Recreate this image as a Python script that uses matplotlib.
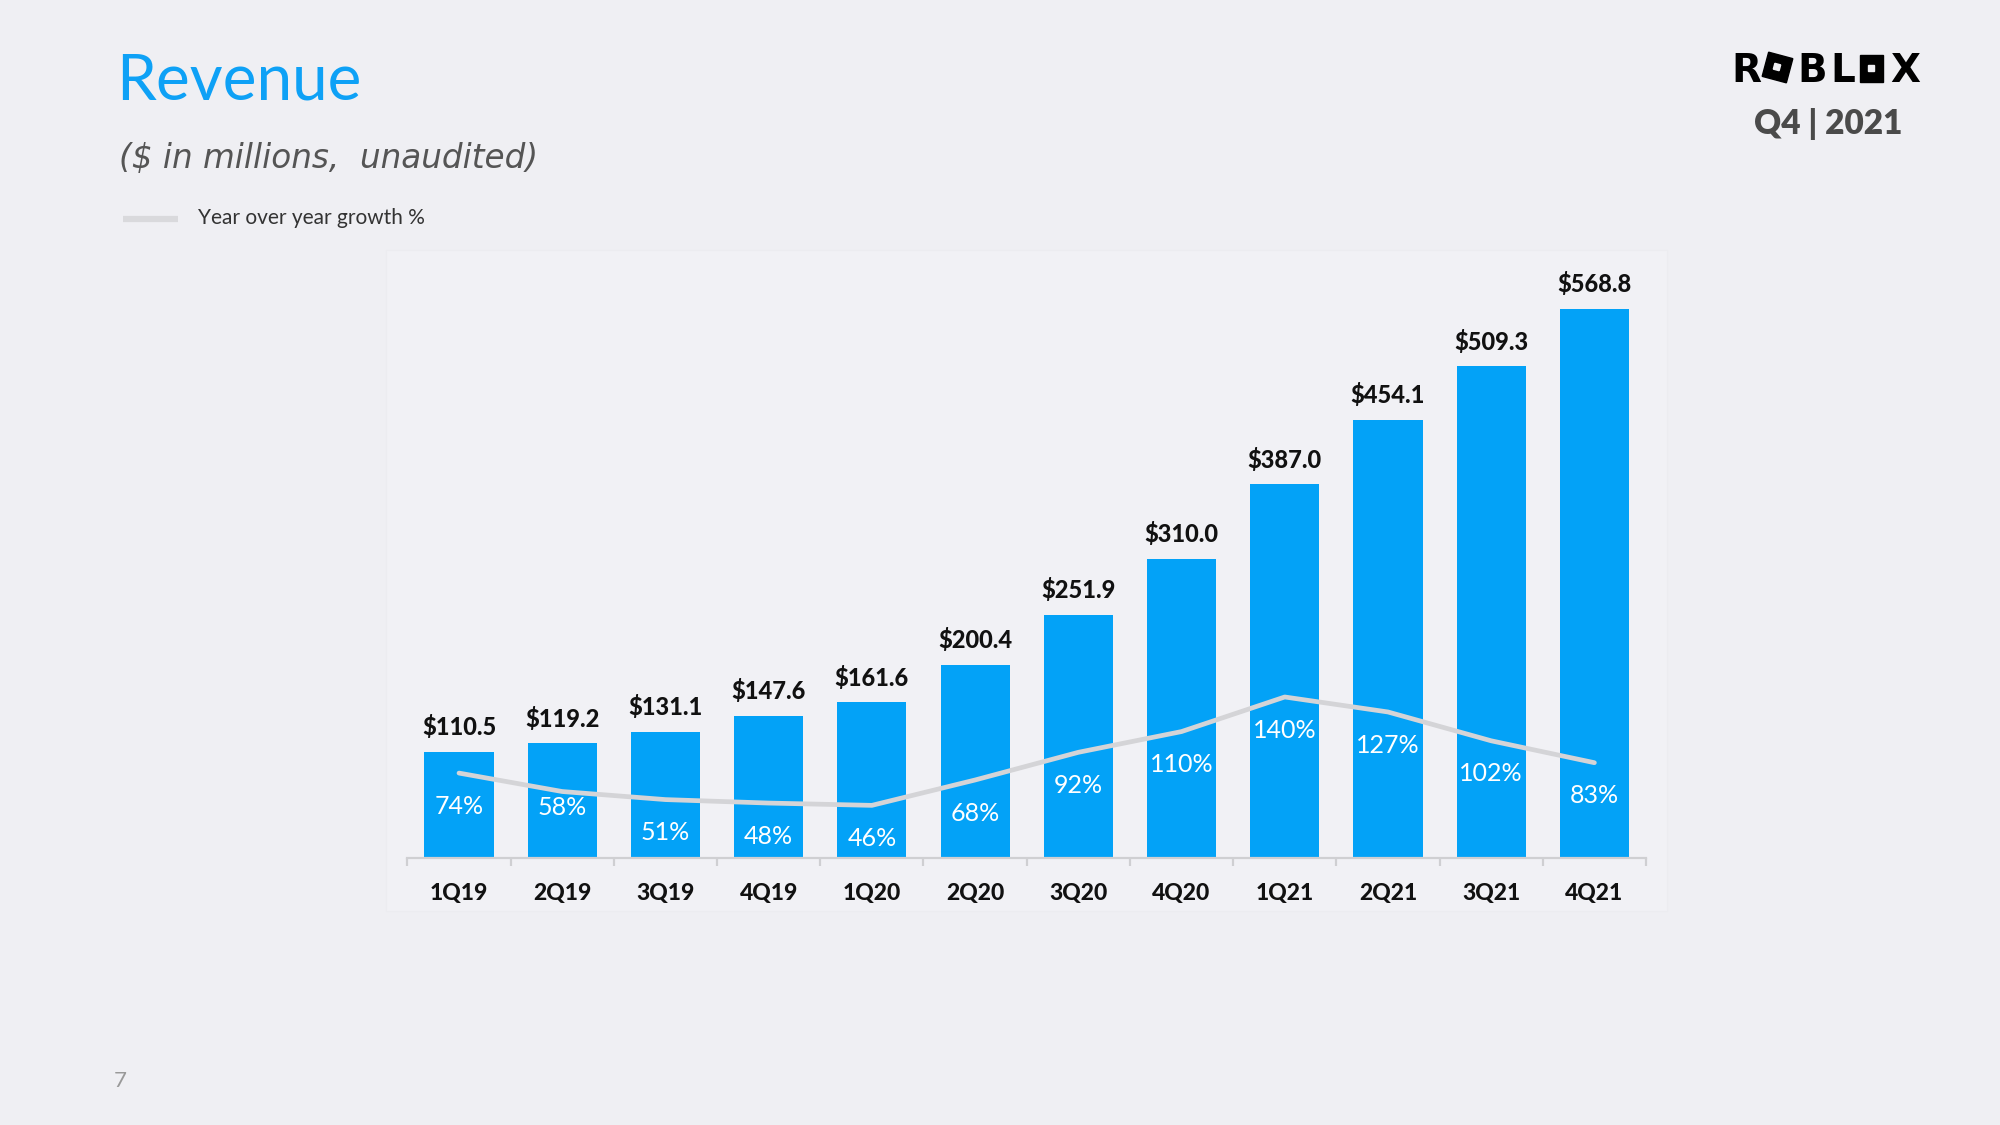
import matplotlib
matplotlib.use("Agg")
import matplotlib.pyplot as plt
from matplotlib.patches import Rectangle
import numpy as np

plt.rcParams['font.family'] = ['Lato', 'DejaVu Sans']

# quarterly revenue ($ in millions) and year over year growth (%)
quarters = ['1Q19', '2Q19', '3Q19', '4Q19', '1Q20', '2Q20',
            '3Q20', '4Q20', '1Q21', '2Q21', '3Q21', '4Q21']
revenue = [110.5, 119.2, 131.1, 147.6, 161.6, 200.4,
           251.9, 310.0, 387.0, 454.1, 509.3, 568.8]
growth = [74, 58, 51, 48, 46, 68, 92, 110, 140, 127, 102, 83]

BLUE = '#03a2f7'
BG = '#efeff3'
LINE_GRAY = '#d4d4d7'

fig = plt.figure(figsize=(20, 11.25), dpi=100, facecolor=BG)

# background layer in pixel coordinates (y goes down like the slide)
bg = fig.add_axes([0, 0, 1, 1], zorder=0)
bg.set_xlim(0, 2000)
bg.set_ylim(1125, 0)
bg.axis('off')

# faint panel behind the chart
bg.add_patch(Rectangle((386, 250), 1281, 661, facecolor='#f1f1f5', edgecolor='#ececf0', lw=0.8))

# slide title and subtitle
bg.text(116, 100, 'Revenue', fontsize=46, color='#0ea1f6', va='baseline', ha='left')
bg.text(119, 168, '($ in millions,  unaudited)', fontsize=23.5, style='italic',
        family='DejaVu Sans', color='#555555', va='baseline', ha='left')

# legend
bg.plot([123, 178], [219, 219], color='#d9d9dc', lw=4.5, solid_capstyle='butt')
bg.text(198, 224, 'Year over year growth %', fontsize=15, color='#333333',
        va='baseline', ha='left')

# logo: letters + the two square "O"s
for letter, xc in [('R', 1746), ('B', 1812), ('L', 1843), ('X', 1905)]:
    bg.text(xc, 82, letter, fontsize=28, fontweight='bold', family='DejaVu Sans',
            color='black', ha='center', va='baseline')
bg.add_patch(Rectangle((1765, 55), 25, 25, angle=15, rotation_point='center', color='black'))
bg.add_patch(Rectangle((1774, 64), 6, 6, angle=15, rotation_point='center', color=BG))
bg.add_patch(Rectangle((1860, 55), 23, 27, color='black'))
bg.add_patch(Rectangle((1868, 65), 6, 6, color=BG))
bg.text(1828, 134, 'Q4 | 2021', fontsize=24, fontweight='heavy', color='#4a4a4a',
        ha='center', va='baseline')

# page number
bg.text(120, 1087, '7', fontsize=16, color='#999999', ha='center', va='baseline')

# chart
ax = fig.add_axes([407.4 / 2000, 266.6 / 1125, 1238.6 / 2000, 579.8 / 1125], zorder=1)
ax.set_facecolor('none')
x = np.arange(len(quarters))
ax.bar(x, revenue, width=0.67, color=BLUE, zorder=2)
ax.set_xlim(-0.5, len(quarters) - 0.5)
ax.set_ylim(0, 600)

for s in ['top', 'right', 'left']:
    ax.spines[s].set_visible(False)
ax.spines['bottom'].set_color('#cfcfd2')
ax.spines['bottom'].set_linewidth(1.6)
ax.set_yticks([])
ax.set_xticks(x)
ax.set_xticklabels(quarters, fontsize=16.5, fontweight='black', color='#111111')
ax.tick_params(axis='x', which='major', length=0, pad=17.5)
ax.set_xticks(np.arange(-0.5, len(quarters)), minor=True)
ax.tick_params(axis='x', which='minor', length=6, width=1.6, color='#cfcfd2')

for i, v in enumerate(revenue):
    ax.annotate(f'${v:.1f}', xy=(i, v), xytext=(0, 12), textcoords='offset points',
                ha='center', va='baseline', fontsize=17, fontweight='black', color='#111111')

# growth line on its own scale, 0% sits on the baseline
ax2 = ax.twinx()
ax2.set_zorder(2)
ax2.set_ylim(0, 579.8 / 1.153)
ax2.axis('off')
ax2.plot(x, growth, color=LINE_GRAY, lw=3.4, solid_capstyle='round', zorder=3)

offsets = {1: -11.5}
for i, g in enumerate(growth):
    ax2.annotate(f'{g}%', xy=(i, g), xytext=(0, offsets.get(i, -23.8)), textcoords='offset points',
                 ha='center', va='center', fontsize=18, color='white', zorder=4)

fig.savefig('out.png', dpi=100, facecolor=BG)
